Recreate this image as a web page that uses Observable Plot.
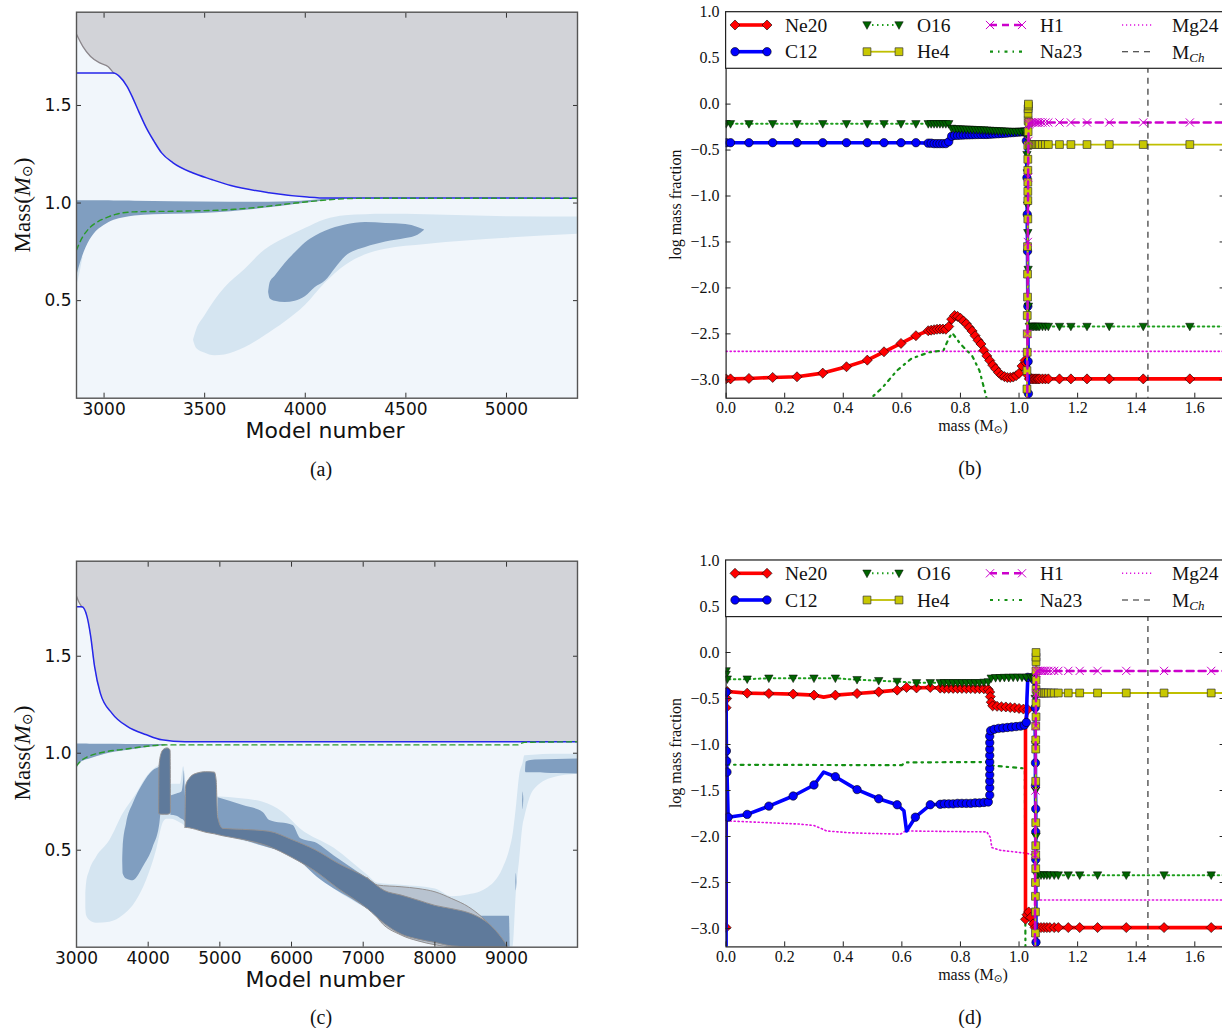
<!DOCTYPE html>
<html><head><meta charset="utf-8">
<script src="https://cdn.jsdelivr.net/npm/d3@7"></script>
<script src="https://cdn.jsdelivr.net/npm/@observablehq/plot@0.6"></script>
<style>
body{margin:0;background:#fff;}
#fig{position:relative;width:1222px;height:1028px;overflow:hidden;background:#fff;}
</style></head><body><div id="fig"></div>
<script>
// ================= DATA =================
// ---- Panel (a): Kippenhahn diagram, model number vs mass ----
const aXTicks = [3000, 3500, 4000, 4500, 5000];
const aYTicks = [0.5, 1.0, 1.5];
const aXDomain = [2863, 5353];
const aYDomain = [0, 1.978];
const aGrayEdge = [[2863,1.865],[2895,1.802],[2933,1.751],[2981,1.717],[3019,1.70],[3048,1.666]];
const aBlueEdge = [[2863,1.666],[3048,1.666],[3076,1.649],[3114,1.598],[3143,1.538],[3172,1.47],[3210,1.385],[3248,1.317],[3286,1.257],[3343,1.206],[3439,1.155],[3534,1.121],[3630,1.09],[3820,1.053],[4011,1.031],[4107,1.026],[5353,1.025]];
const aHeCore = [[2863,0.76],[2890,0.82],[2930,0.875],[2970,0.905],[3000,0.92],[3057,0.942],[3150,0.955],[3400,0.959],[3650,0.968],[3800,0.982],[3950,1.0],[4100,1.015],[4250,1.024],[4400,1.025],[5353,1.025]];
const aFringe = [[2863,0.57,0.65],[2880,0.64,0.71],[2895,0.72,0.725]];
const aLightBlob = [[3445,0.295,0.3],[3460,0.255,0.35],[3500,0.232,0.42],[3550,0.218,0.50],[3600,0.222,0.565],[3700,0.258,0.66],[3800,0.32,0.76],[3900,0.39,0.82],[4000,0.475,0.87],[4100,0.59,0.915],[4200,0.68,0.935],[4300,0.735,0.94],[4400,0.763,0.942],[4600,0.788,0.94],[4800,0.806,0.935],[5000,0.82,0.93],[5353,0.84,0.928]];
const aShellBand = [[2863,0.62,1.012],[2885,0.70,1.012],[2910,0.77,1.012],[2950,0.84,1.012],[3000,0.885,1.012],[3050,0.912,1.011],[3100,0.925,1.01],[3153,0.934,1.009],[3343,0.942,1.007],[3630,0.956,1.004],[3820,0.976,1.004],[3950,0.993,1.008],[4011,1.0,1.012],[4100,1.012,1.02],[4200,1.022,1.025]];
const aDarkBlob = [[3818,0.54,0.545],[3825,0.51,0.59],[3850,0.497,0.625],[3900,0.49,0.69],[3950,0.497,0.745],[4000,0.52,0.795],[4050,0.567,0.83],[4100,0.60,0.855],[4150,0.665,0.875],[4200,0.725,0.888],[4300,0.772,0.90],[4400,0.80,0.895],[4500,0.818,0.89],[4560,0.835,0.875],[4593,0.86,0.862]];

// ---- Panel (c): Kippenhahn diagram ----
const cXTicks = [3000, 4000, 5000, 6000, 7000, 8000, 9000];
const cYTicks = [0.5, 1.0, 1.5];
const cXDomain = [3000, 9990];
const cYDomain = [0, 1.99];
const cGrayEdge = [[3000,1.81],[3038,1.776],[3075,1.755]];
const cBlueEdge = [[3000,1.755],[3075,1.755],[3145,1.707],[3198,1.603],[3252,1.448],[3332,1.31],[3493,1.207],[3708,1.138],[3976,1.095],[4190,1.069],[4512,1.059],[9990,1.059]];
const cHeCore = [[3000,0.935],[3060,0.96],[3140,0.979],[3372,1.005],[3698,1.022],[4023,1.038],[4256,1.043],[9150,1.043],[9250,1.056],[9990,1.059]];
const cShellBand = [[3000,0.90,1.048],[3030,0.94,1.048],[3100,0.96,1.047],[3186,0.97,1.046],[3400,0.995,1.046],[3698,1.014,1.045],[4000,1.03,1.045],[4250,1.04,1.045]];
const cLightLeft = [[3130,0.2,0.28],[3140,0.163,0.327],[3186,0.138,0.395],[3279,0.124,0.464],[3465,0.129,0.55],[3651,0.163,0.688],[3837,0.24,0.79],[3977,0.344,0.876],[4116,0.498,0.928],[4209,0.64,0.945],[4260,0.66,0.90],[4320,0.66,0.84],[4450,0.64,0.84],[4495,0.63,0.93],[4525,0.615,0.85]];
const cLightMain = [[4950,0.58,0.775],[5300,0.55,0.765],[5604,0.52,0.747],[5883,0.49,0.695],[6125,0.44,0.61],[6596,0.30,0.51],[7066,0.196,0.37],[7206,0.17,0.33],[7536,0.07,0.32],[8008,0.02,0.30],[8243,0.0,0.26],[8478,0,0.27],[8714,0,0.30],[8949,0,0.405],[9043,0,0.5],[9090,0,0.578],[9137,0.283,0.72],[9185,0.457,0.89],[9231,0.63,0.95],[9255,0.67,0.987],[9373,0.805,0.99],[9655,0.874,0.995],[9990,0.891,0.995]];
const cMedLeft = [[3645,0.44,0.445],[3651,0.378,0.515],[3698,0.352,0.636],[3791,0.343,0.739],[3930,0.412,0.842],[4070,0.515,0.91],[4163,0.636,0.928],[4175,0.68,0.93]];
const cMedMid = [[4316,0.68,0.78],[4400,0.675,0.79],[4470,0.66,0.80],[4495,0.655,0.86],[4505,0.65,0.91],[4515,0.645,0.82],[4525,0.64,0.75]];
const cMedMain = [[4976,0.58,0.77],[5325,0.553,0.73],[5604,0.52,0.695],[5697,0.51,0.653],[6023,0.47,0.627],[6125,0.44,0.561],[6360,0.36,0.535],[6596,0.30,0.47],[6831,0.25,0.411],[7066,0.196,0.353]];
const cMedRight = [[8600,0,0.16],[9040,0,0.16],[9050,0,0.005]];
const cMedTop = [[9265,0.905,0.91],[9275,0.90,0.955],[9400,0.90,0.965],[9700,0.895,0.968],[9990,0.893,0.97]];
const cSpotA = [[9225,0.75,0.755],[9232,0.71,0.80],[9240,0.76,0.765]];
const cSpotB = [[9130,0.33,0.335],[9137,0.29,0.38],[9144,0.33,0.335]];
const cGrayReg = [[7066,0.353,0.355],[7206,0.15,0.318],[7536,0.06,0.309],[7772,0.03,0.30],[8008,0.01,0.283],[8243,0,0.248],[8478,0,0.205],[8714,0,0.135],[8902,0,0.057],[9006,0,0.002]];
const cColumn = [[4153,0.69,0.695],[4158,0.685,0.93],[4190,0.683,1.0],[4230,0.683,1.02],[4270,0.683,1.025],[4300,0.685,1.02],[4313,0.69,1.01],[4317,0.70,0.705]];
const cDeep = [[4520,0.615,0.62],[4530,0.615,0.83],[4580,0.613,0.868],[4670,0.605,0.893],[4810,0.59,0.902],[4930,0.582,0.90],[4955,0.58,0.86],[4975,0.578,0.67],[5046,0.572,0.61],[5325,0.553,0.605],[5692,0.517,0.595],[6013,0.46,0.552],[6335,0.39,0.50],[6657,0.30,0.43],[7066,0.196,0.353],[7300,0.12,0.29],[7536,0.065,0.266],[7772,0.039,0.24],[8008,0.022,0.213],[8243,0.004,0.196],[8478,0,0.175],[8573,0,0.161],[8761,0,0.118],[8949,0,0.04],[9020,0,0.002]];

// ---- Panel (b): abundance profile (mass, log mass fraction); third value 0 = no marker ----
const abXTicks = [0, 0.2, 0.4, 0.6, 0.8, 1.0, 1.2, 1.4, 1.6];
const abYTicks = [-3.0, -2.5, -2.0, -1.5, -1.0, -0.5, 0.0, 0.5, 1.0];
const mChandra = 1.44;
const bCoreMass = [0.0,0.015,0.078,0.159,0.242,0.33,0.411,0.482,0.539,0.597,0.648,0.69,0.70,0.71,0.72,0.73,0.74,0.75,0.76,0.77,0.78,0.79,0.80,0.81,0.82,0.83,0.84,0.85,0.86,0.87,0.88,0.89,0.90,0.91,0.92,0.93,0.94,0.95,0.96,0.97,0.98,0.99,1.0,1.01,1.02];
const bNe20Core = [-2.99,-2.99,-2.985,-2.974,-2.967,-2.927,-2.858,-2.786,-2.695,-2.604,-2.52,-2.466,-2.46,-2.455,-2.45,-2.448,-2.448,-2.45,-2.42,-2.34,-2.30,-2.31,-2.33,-2.36,-2.39,-2.43,-2.47,-2.52,-2.57,-2.61,-2.68,-2.74,-2.79,-2.84,-2.88,-2.92,-2.95,-2.965,-2.975,-2.975,-2.97,-2.955,-2.93,-2.85,-2.79];
const bO16Core = [-0.215,-0.215,-0.215,-0.215,-0.215,-0.215,-0.215,-0.215,-0.215,-0.215,-0.215,-0.215,-0.215,-0.215,-0.215,-0.215,-0.215,-0.215,-0.215,-0.265,-0.27,-0.27,-0.272,-0.273,-0.275,-0.276,-0.277,-0.279,-0.28,-0.282,-0.283,-0.285,-0.287,-0.289,-0.29,-0.292,-0.293,-0.295,-0.297,-0.298,-0.30,-0.30,-0.30,-0.30,-0.30];
const bC12Core = [-0.42,-0.42,-0.42,-0.42,-0.42,-0.42,-0.42,-0.42,-0.42,-0.42,-0.42,-0.425,-0.425,-0.43,-0.43,-0.43,-0.43,-0.43,-0.41,-0.35,-0.34,-0.34,-0.338,-0.336,-0.335,-0.334,-0.333,-0.332,-0.331,-0.33,-0.33,-0.33,-0.328,-0.326,-0.324,-0.322,-0.32,-0.318,-0.315,-0.312,-0.31,-0.307,-0.305,-0.302,-0.30];
const bOuterMass = [1.04,1.045,1.05,1.055,1.06,1.065,1.07,1.08,1.09,1.1,1.138,1.177,1.232,1.308,1.424,1.583,1.75];
const bNe20Tail = [[1.025,-2.82],[1.03,-2.95],[1.035,-2.99]];
const bNe20Outer = -2.99;
const bC12Tail = [[1.025,-0.40],[1.027,-0.8],[1.028,-1.2],[1.029,-1.6],[1.03,-2.2],[1.031,-2.8],[1.032,-3.15],[1.033,-3.4,0]];
const bO16Tail = [[1.025,-0.35],[1.027,-0.55],[1.028,-0.75],[1.029,-1.1],[1.03,-1.4],[1.031,-1.8],[1.032,-2.2],[1.035,-2.42]];
const bO16Outer = -2.42;
const bHe4Rise = [[1.026,-3.4,0],[1.027,-3.1],[1.027,-2.9],[1.028,-2.7],[1.028,-2.5],[1.028,-2.3],[1.029,-2.1],[1.029,-1.85],[1.029,-1.55],[1.03,-1.25],[1.03,-1.05],[1.03,-0.95],[1.03,-0.85],[1.03,-0.72],[1.03,-0.6],[1.03,-0.45],[1.031,-0.3],[1.031,-0.18],[1.031,-0.1],[1.031,-0.05],[1.032,-0.02],[1.032,0.0],[1.034,-0.2],[1.036,-0.44]];
const bHe4Outer = -0.44;
const bH1Rise = [[1.028,-3.4,0],[1.029,-2.5],[1.03,-1.5],[1.031,-0.8],[1.032,-0.4],[1.033,-0.22],[1.036,-0.21]];
const bH1Outer = -0.2;
const bMg24 = [[0,-2.69],[1.75,-2.69]];
const bNa23 = [[0.49,-3.25],[0.498,-3.19],[0.535,-3.08],[0.583,-2.9],[0.632,-2.77],[0.694,-2.70],[0.742,-2.68],[0.76,-2.55],[0.772,-2.49],[0.80,-2.61],[0.84,-2.74],[0.865,-2.9],[0.883,-3.12],[0.893,-3.25]];

// ---- Panel (d): abundance profile ----
const dOuterMass = [1.065,1.075,1.085,1.095,1.105,1.12,1.134,1.168,1.207,1.268,1.366,1.495,1.656,1.75];
const dHe4InnerOuterMass = [1.068,1.074,1.08,1.086,1.092,1.1,1.11,1.12];
const dH1InnerOuterMass = [1.066,1.072,1.078,1.084,1.09,1.1,1.11,1.12];
const dNe20 = [[0.0,-2.99],[0.0,-0.6],[0.002,-0.5],[0.004,-0.424],[0.072,-0.442],[0.146,-0.446],[0.229,-0.452],[0.30,-0.463],[0.333,-0.485,0],[0.373,-0.463],[0.447,-0.446],[0.521,-0.428],[0.584,-0.409],[0.616,-0.38],[0.65,-0.385],[0.697,-0.38],[0.731,-0.387],[0.745,-0.39],[0.76,-0.39],[0.775,-0.39],[0.79,-0.39],[0.805,-0.39],[0.82,-0.392],[0.835,-0.392],[0.85,-0.393],[0.865,-0.394],[0.88,-0.395],[0.895,-0.40],[0.90,-0.43],[0.902,-0.48],[0.905,-0.54],[0.91,-0.58],[0.925,-0.585],[0.94,-0.59],[0.955,-0.592],[0.97,-0.598],[0.985,-0.602],[1.0,-0.608],[1.015,-0.615],[1.03,-0.62],[1.022,-0.75,0],[1.022,-2.9],[1.027,-2.85],[1.033,-2.82],[1.04,-2.88],[1.048,-2.95],[1.055,-2.99]];
const dNe20Outer = -2.99;
const dC12 = [[0.0,-3.4,0],[0.0,-0.43],[0.001,-1.07],[0.002,-1.18],[0.003,-1.3],[0.007,-1.79],[0.072,-1.76],[0.146,-1.67],[0.229,-1.56],[0.30,-1.44],[0.333,-1.30,0],[0.373,-1.35],[0.447,-1.49],[0.521,-1.59],[0.584,-1.655],[0.607,-1.72,0],[0.616,-1.94,0],[0.646,-1.79],[0.697,-1.655],[0.731,-1.65],[0.745,-1.645],[0.76,-1.645],[0.775,-1.645],[0.79,-1.64],[0.805,-1.64],[0.82,-1.64],[0.835,-1.64],[0.85,-1.635],[0.865,-1.635],[0.88,-1.63],[0.895,-1.625],[0.90,-1.55],[0.90,-1.47],[0.90,-1.40],[0.90,-1.33],[0.90,-1.26],[0.90,-1.19],[0.90,-1.12],[0.90,-1.05],[0.90,-0.98],[0.90,-0.91],[0.903,-0.85],[0.915,-0.835],[0.93,-0.825],[0.945,-0.82],[0.96,-0.815],[0.975,-0.81],[0.99,-0.805],[1.005,-0.80],[1.018,-0.79],[1.025,-0.76],[1.027,-0.5,0],[1.03,-0.27],[1.045,-0.27],[1.052,-0.3],[1.055,-0.6],[1.056,-1.2],[1.056,-1.45],[1.057,-1.7],[1.057,-1.95],[1.057,-2.25],[1.058,-3.15],[1.058,-3.4,0]];
const dO16 = [[0.0,-0.2],[0.0,-0.24],[0.004,-0.29],[0.072,-0.29],[0.146,-0.28],[0.229,-0.28],[0.30,-0.28],[0.373,-0.28],[0.447,-0.296],[0.521,-0.307],[0.584,-0.315],[0.65,-0.33],[0.697,-0.33],[0.731,-0.33],[0.745,-0.33],[0.76,-0.33],[0.775,-0.33],[0.79,-0.33],[0.805,-0.33],[0.82,-0.33],[0.835,-0.33],[0.85,-0.33],[0.865,-0.33],[0.88,-0.325],[0.895,-0.32],[0.905,-0.28],[0.92,-0.275],[0.935,-0.275],[0.95,-0.272],[0.965,-0.272],[0.98,-0.27],[0.995,-0.27],[1.01,-0.27],[1.025,-0.27],[1.04,-0.27],[1.05,-0.28],[1.055,-0.5],[1.056,-1.0],[1.057,-1.5],[1.058,-2.0],[1.06,-2.42]];
const dO16Outer = -2.42;
const dHe4 = [[1.055,-3.4,0],[1.056,-3.05],[1.056,-2.82],[1.056,-2.65],[1.056,-2.5],[1.057,-2.35],[1.057,-2.2],[1.057,-2.1],[1.057,-1.85],[1.057,-1.4],[1.057,-1.05],[1.057,-0.95],[1.057,-0.8],[1.058,-0.7],[1.058,-0.55],[1.058,-0.4],[1.058,-0.3],[1.058,-0.2],[1.058,-0.1],[1.058,-0.05],[1.058,0.0],[1.062,-0.44]];
const dHe4Outer = -0.44;
const dH1 = [[1.054,-3.4,0],[1.055,-2.2],[1.056,-1.5],[1.057,-0.8],[1.058,-0.45],[1.059,-0.22],[1.062,-0.2]];
const dH1Outer = -0.2;
const dMg24 = [[0,-1.83],[0.25,-1.865],[0.30,-1.88],[0.344,-1.94],[0.424,-1.96],[0.595,-1.975],[0.612,-1.94],[0.89,-1.95],[0.902,-2.01],[0.907,-2.12],[0.936,-2.15],[1.02,-2.18],[1.05,-2.2],[1.058,-2.69],[1.75,-2.69]];
const dNa23 = [[0,-1.22],[0.6,-1.225],[0.61,-1.195],[0.9,-1.19],[0.91,-1.23],[1.02,-1.26],[1.022,-3.4]];

// ================= STYLE =================
const COL = {bg:"#f1f6fb", light:"#d5e5f1", medium:"#809ec0", darkest:"#5f7a9b", grayreg:"#b8c3d0", top:"#d2d3d8",
  blue:"#2626ea", grayline:"#8c878c", green:"#2a9a2a", outline:"#939090", frame:"#555"};
const SERIF = '"Liberation Serif", "DejaVu Serif", serif';
const SANS = '"DejaVu Sans", sans-serif';

const symDiamond = {draw(c, size){ const s = Math.sqrt(size)*0.66; c.moveTo(0,-s); c.lineTo(s,0); c.lineTo(0,s); c.lineTo(-s,0); c.closePath(); }};
const symTriDown = {draw(c, size){ const s = Math.sqrt(size); c.moveTo(-0.58*s,-0.45*s); c.lineTo(0.58*s,-0.45*s); c.lineTo(0,0.6*s); c.closePath(); }};

const fig = document.getElementById("fig");
function place(node, left, top){ node.style.position="absolute"; node.style.left=left+"px"; node.style.top=top+"px"; fig.appendChild(node); }

// ================= KIPPENHAHN PANELS =================
function region(arr, fill, outline){
  const opts = {x: d=>d[0], y1: d=>d[1], y2: d=>d[2], fill, curve: "monotone-x", clip: true};
  if (outline) { opts.stroke = COL.outline; opts.strokeWidth = 1; }
  return Plot.areaY(arr, opts);
}
function kipp({xDomain, yDomain, xTicks, yTicks, mt, mb, grayEdge, blueEdge, heCore, layers}){
  const surface = grayEdge.concat(blueEdge.filter(d => d[0] > grayEdge[grayEdge.length-1][0]));
  return Plot.plot({
    width: 600, height: 450, marginLeft: 76, marginRight: 23, marginTop: mt, marginBottom: mb,
    x: {domain: xDomain}, y: {domain: yDomain},
    style: {fontFamily: SANS, fontSize: "17px", color: "#111", background: "none", overflow: "visible"},
    marks: [
      Plot.frame({fill: COL.bg, stroke: "none"}),
      Plot.areaY(surface, {x: d=>d[0], y1: d=>d[1], y2: yDomain[1], fill: COL.top, curve: "monotone-x", clip: true}),
      ...layers.map(l => region(l[0], l[1], l[2])),
      Plot.line(grayEdge, {x: d=>d[0], y: d=>d[1], stroke: COL.grayline, strokeWidth: 1.3, curve: "monotone-x", clip: true}),
      Plot.line(blueEdge, {x: d=>d[0], y: d=>d[1], stroke: COL.blue, strokeWidth: 1.5, curve: "monotone-x", clip: true}),
      Plot.line(heCore, {x: d=>d[0], y: d=>d[1], stroke: COL.green, strokeWidth: 1.4, strokeDasharray: "5,4", curve: "monotone-x", clip: true}),
      Plot.axisX({ticks: xTicks, tickSize: -5, tickPadding: 9.5, tickFormat: d3.format("d"), label: null, stroke: "#333"}),
      Plot.axisX({anchor: "top", ticks: xTicks, tickSize: -5, tickFormat: () => "", label: null, stroke: "#333"}),
      Plot.axisY({ticks: yTicks, tickSize: -5, tickPadding: 10, tickFormat: d3.format(".1f"), label: null, stroke: "#333"}),
      Plot.axisY({anchor: "right", ticks: yTicks, tickSize: -5, tickFormat: () => "", label: null, stroke: "#333"}),
      Plot.frame({stroke: COL.frame, strokeWidth: 1.4})
    ]
  });
}

place(kipp({xDomain: aXDomain, yDomain: aYDomain, xTicks: aXTicks, yTicks: aYTicks, mt: 11.7, mb: 52.3,
  grayEdge: aGrayEdge, blueEdge: aBlueEdge, heCore: aHeCore,
  layers: [[aFringe, COL.light], [aLightBlob, COL.light], [aShellBand, COL.medium], [aDarkBlob, COL.medium]]}), 0, 0);

place(kipp({xDomain: cXDomain, yDomain: cYDomain, xTicks: cXTicks, yTicks: cYTicks, mt: 12.7, mb: 51.3,
  grayEdge: cGrayEdge, blueEdge: cBlueEdge, heCore: cHeCore,
  layers: [[cShellBand, COL.medium], [cLightLeft, COL.light], [cLightMain, COL.light], [cMedLeft, COL.medium], [cMedMid, COL.medium],
    [cMedMain, COL.medium], [cMedRight, COL.medium], [cMedTop, COL.medium], [cSpotA, COL.medium], [cSpotB, COL.medium],
    [cGrayReg, COL.grayreg, true], [cColumn, COL.darkest, true], [cDeep, COL.darkest, true]]}), 0, 548);

// ================= ABUNDANCE PANELS =================
const pts = arr => arr.map(d => ({x: d[0], y: d[1], mark: d[2] !== 0}));
const withOuter = (arr, masses, level) => arr.concat(masses.map(m => [m, level]));
const zipCore = (masses, vals) => masses.map((m, i) => [m, vals[i]]);

const STY = {
  Ne20: {stroke: "#ff0000", width: 3.6, symbol: symDiamond, r: 4.3, fill: "#ff0000", edge: "#000", edgeW: 0.6},
  C12:  {stroke: "#0000ff", width: 3.6, symbol: "circle", r: 4.2, fill: "#0000ff", edge: "#000", edgeW: 0.6},
  O16:  {stroke: "#1f9f1f", width: 2, dash: "1.5,3.5", symbol: symTriDown, r: 4.1, fill: "#006400", edge: "#000", edgeW: 0.5},
  He4:  {stroke: "#bfbf00", width: 1.8, symbol: "square", r: 4.4, fill: "#c8c800", edge: "#333", edgeW: 0.7},
  H1:   {stroke: "#cc00cc", width: 2.5, dash: "7,5", symbol: "times", r: 3.8, fill: "none", edge: "#cc00cc", edgeW: 1},
  Mg24: {stroke: "#e010e0", width: 1.6, dash: "1.2,2.8"},
  Na23: {stroke: "#149014", width: 2.2, dash: "3,5,1.5,5"},
  MCh:  {stroke: "#222", width: 1.1, dash: "6,5"}
};

function seriesMarks(data, s){
  const p = pts(data);
  const out = [Plot.line(p, {x: "x", y: "y", stroke: s.stroke, strokeWidth: s.width, strokeDasharray: s.dash, clip: true})];
  if (s.symbol) out.push(Plot.dot(p.filter(d => d.mark), {x: "x", y: "y", symbol: s.symbol, r: s.r, fill: s.fill, stroke: s.edge, strokeWidth: s.edgeW, clip: true}));
  return out;
}
function abund(series, mt, mb){
  return Plot.plot({
    width: 574, height: 450, marginLeft: 65.6, marginRight: 10.4, marginTop: mt, marginBottom: mb,
    x: {domain: [0, 1.7]}, y: {domain: [-3.2, 1.0]},
    style: {fontFamily: SERIF, fontSize: "16px", color: "#111", background: "none", overflow: "visible"},
    marks: [
      Plot.frame({fill: "#fff", stroke: "none"}),
      ...series.flatMap(([data, s]) => seriesMarks(data, s)),
      Plot.ruleX([mChandra], {stroke: STY.MCh.stroke, strokeWidth: STY.MCh.width, strokeDasharray: STY.MCh.dash}),
      Plot.axisX({ticks: abXTicks, tickSize: -5, tickPadding: 8.7, tickFormat: d3.format(".1f"), label: null, stroke: "#222"}),
      Plot.axisX({anchor: "top", ticks: abXTicks, tickSize: -5, tickFormat: () => "", label: null, stroke: "#222"}),
      Plot.axisY({ticks: abYTicks, tickSize: -5, tickPadding: 11.5, tickFormat: d3.format(".1f"), label: null, stroke: "#222"}),
      Plot.axisY({anchor: "right", ticks: abYTicks, tickSize: -5, tickFormat: () => "", label: null, stroke: "#222"}),
      Plot.frame({stroke: "#222", strokeWidth: 1.2})
    ]
  });
}

const bSeries = [
  [bMg24, STY.Mg24], [bNa23, STY.Na23],
  [withOuter(zipCore(bCoreMass, bNe20Core).concat(bNe20Tail), bOuterMass, bNe20Outer), STY.Ne20],
  [zipCore(bCoreMass, bC12Core).concat(bC12Tail), STY.C12],
  [withOuter(zipCore(bCoreMass, bO16Core).concat(bO16Tail), bOuterMass, bO16Outer), STY.O16],
  [withOuter(bHe4Rise, bOuterMass, bHe4Outer), STY.He4],
  [withOuter(bH1Rise, bOuterMass, bH1Outer), STY.H1]
];
const dSeries = [
  [dMg24, STY.Mg24], [dNa23, STY.Na23],
  [withOuter(dNe20, dOuterMass, dNe20Outer), STY.Ne20],
  [dC12, STY.C12],
  [withOuter(dO16, dOuterMass, dO16Outer), STY.O16],
  [withOuter(dHe4, dHe4InnerOuterMass.concat(dOuterMass.slice(6)), dHe4Outer), STY.He4],
  [withOuter(dH1, dH1InnerOuterMass.concat(dOuterMass.slice(6)), dH1Outer), STY.H1]
];
place(abund(bSeries, 11.7, 52.3), 660, 0);
place(abund(dSeries, 12, 51.6), 660, 548);

// ================= OVERLAY: legends & labels =================
const ov = d3.select(fig).append("svg").attr("width", 1222).attr("height", 1028)
  .style("position", "absolute").style("left", "0px").style("top", "0px");

function txt(x, y, content, {size = 16, family = SERIF, rotate = 0} = {}){
  const t = ov.append("text").attr("transform", `translate(${x},${y}) rotate(${rotate})`)
    .attr("text-anchor", "middle").attr("dominant-baseline", "central")
    .attr("font-family", family).attr("font-size", size).attr("fill", "#111");
  content(t);
  return t;
}
function massLabel(cy){
  txt(22, cy, t => {
    t.append("tspan").text("Mass(");
    t.append("tspan").attr("font-style", "italic").text("M");
    t.append("tspan").attr("font-size", 14).attr("dy", 5).attr("font-family", SANS).text("⊙");
    t.append("tspan").attr("dy", -5).text(")");
  }, {size: 23, rotate: -90});
}
massLabel(205); massLabel(753);
txt(325, 430, t => t.text("Model number"), {size: 22, family: SANS});
txt(325, 979, t => t.text("Model number"), {size: 22, family: SANS});

function abLabels(top){
  txt(675, top + 193, t => t.text("log mass fraction"), {size: 16, rotate: -90});
  txt(973, top + 413.5, t => {
    t.append("tspan").text("mass (M");
    t.append("tspan").attr("font-size", 10.5).attr("dy", 4).attr("font-family", SANS).text("⊙");
    t.append("tspan").attr("dy", -4).text(")");
  }, {size: 16});
}
abLabels(11.7); abLabels(560);

txt(321, 469, t => t.text("(a)"), {size: 20});
txt(970, 468, t => t.text("(b)"), {size: 20});
txt(321, 1017, t => t.text("(c)"), {size: 20});
txt(970, 1017, t => t.text("(d)"), {size: 20});

const legendEntries = [
  ["Ne20", STY.Ne20, 0, 0], ["O16", STY.O16, 1, 0], ["H1", STY.H1, 2, 0], ["Mg24", STY.Mg24, 3, 0],
  ["C12", STY.C12, 0, 1], ["He4", STY.He4, 1, 1], ["Na23", STY.Na23, 2, 1], ["MCh", STY.MCh, 3, 1]
];
const legendTextX = [785, 917, 1040, 1172];
function legend(top){
  const g = ov.append("g");
  g.append("rect").attr("x", 725.6).attr("y", top).attr("width", 520).attr("height", 56.6)
    .attr("fill", "#fff").attr("stroke", "#222").attr("stroke-width", 1.2);
  for (const [name, s, col, row] of legendEntries){
    const tx = legendTextX[col], y = top + 13.3 + row * 26.7;
    const x1 = tx - 50, x2 = tx - 18;
    g.append("line").attr("x1", x1).attr("x2", x2).attr("y1", y).attr("y2", y)
      .attr("stroke", s.stroke).attr("stroke-width", s.width).attr("stroke-dasharray", s.dash || null);
    if (s.symbol){
      const path = d3.symbol().type(typeof s.symbol === "string" ? {circle: d3.symbolCircle, square: d3.symbolSquare, times: d3.symbolTimes}[s.symbol] : s.symbol).size(Math.PI * s.r * s.r)();
      for (const x of [x1, x2]) g.append("path").attr("d", path).attr("transform", `translate(${x},${y})`)
        .attr("fill", s.fill).attr("stroke", s.edge).attr("stroke-width", s.edgeW);
    }
    const t = g.append("text").attr("x", tx).attr("y", y).attr("dominant-baseline", "central")
      .attr("font-family", SERIF).attr("font-size", 19.5).attr("fill", "#111");
    if (name === "MCh"){
      t.append("tspan").text("M");
      t.append("tspan").attr("font-style", "italic").attr("font-size", 13).attr("dy", 5).text("Ch");
    } else t.text(name);
  }
}
legend(11.7); legend(560);
</script></body></html>
